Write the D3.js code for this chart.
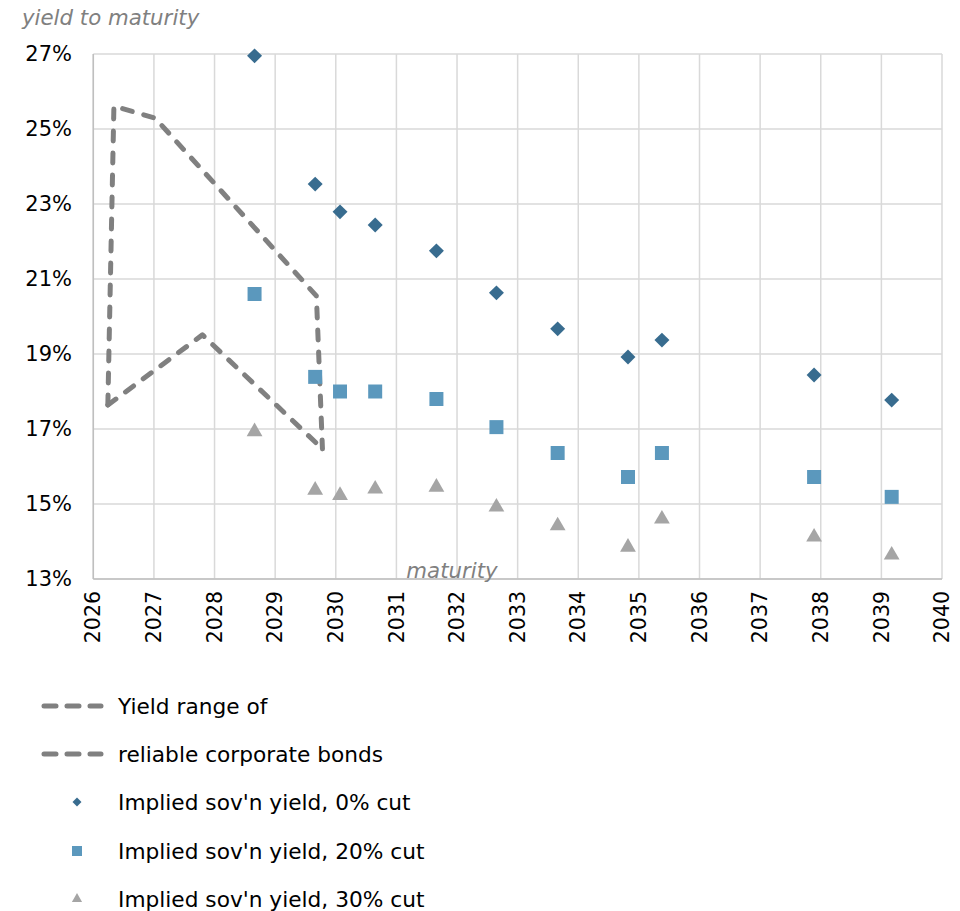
<!DOCTYPE html>
<html><head><meta charset="utf-8">
<script src="https://cdn.jsdelivr.net/npm/d3@7"></script>
<style>body{margin:0;background:#fff}</style>
</head><body>
<svg id="c" width="960" height="911"></svg>
<script>
// ---- data ----
const maturities = [2028.66, 2029.66, 2030.07, 2030.65, 2031.66, 2032.65, 2033.66, 2034.82, 2035.38, 2037.89, 2039.17];
const cut0  = [26.95, 23.53, 22.79, 22.44, 21.75, 20.63, 19.67, 18.92, 19.37, 18.44, 17.77];
const cut20 = [20.60, 18.39, 18.00, 18.00, 17.80, 17.05, 16.36, 15.72, 16.36, 15.72, 15.19];
const cut30 = [16.93, 15.37, 15.23, 15.40, 15.45, 14.92, 14.42, 13.85, 14.60, 14.12, 13.64];
const rangeUpperX = [2026.24, 2026.34, 2027.02, 2029.68, 2029.78];
const rangeUpperY = [17.64, 25.61, 25.29, 20.55, 16.47];
const rangeLowerX = [2026.24, 2027.80, 2029.78];
const rangeLowerY = [17.64, 19.51, 16.47];
const yTicks = [13, 15, 17, 19, 21, 23, 25, 27];
const xTicks = [2026,2027,2028,2029,2030,2031,2032,2033,2034,2035,2036,2037,2038,2039,2040];
const legendLabels = ["Yield range of", "reliable corporate bonds", "Implied sov'n yield, 0% cut", "Implied sov'n yield, 20% cut", "Implied sov'n yield, 30% cut"];

// ---- layout ----
const svg = d3.select("#c");
const font = "DejaVu Sans, Verdana, sans-serif";
const x = d3.scaleLinear().domain([2026, 2040]).range([93.3, 942]);
const y = d3.scaleLinear().domain([13, 27]).range([579, 54]);
const cDia = "#386c8f", cSq = "#5b98bd", cTri = "#a5a5a5", cLine = "#808080";

// grid
const g = svg.append("g");
g.selectAll("line.h").data(yTicks).join("line")
  .attr("x1", x(2026)).attr("x2", x(2040))
  .attr("y1", d => y(d)).attr("y2", d => y(d))
  .attr("stroke", "#d9d9d9").attr("stroke-width", 1.5);
g.selectAll("line.v").data(xTicks).join("line")
  .attr("x1", d => x(d)).attr("x2", d => x(d))
  .attr("y1", y(13)).attr("y2", y(27))
  .attr("stroke", "#d9d9d9").attr("stroke-width", 1.5);
g.append("line").attr("x1", x(2026)).attr("x2", x(2040)).attr("y1", y(13)).attr("y2", y(13))
  .attr("stroke", "#bfbfbf").attr("stroke-width", 1.5);
g.append("line").attr("x1", x(2026)).attr("x2", x(2026)).attr("y1", y(13)).attr("y2", y(27))
  .attr("stroke", "#bfbfbf").attr("stroke-width", 1.5);

// y tick labels
svg.selectAll("text.yt").data(yTicks).join("text")
  .attr("x", 72).attr("y", d => y(d)).attr("dy", "0.35em")
  .attr("text-anchor", "end").attr("font-family", font).attr("font-size", 21).attr("fill", "#000")
  .text(d => d + "%");
// x tick labels
svg.selectAll("text.xt").data(xTicks).join("text")
  .attr("transform", d => `translate(${x(d)},591) rotate(-90)`)
  .attr("dy", "0.35em")
  .attr("text-anchor", "end").attr("font-family", font).attr("font-size", 20.5).attr("fill", "#000")
  .text(d => d);

// axis titles
svg.append("text").attr("x", 22).attr("y", 25).attr("font-family", font).attr("font-style", "italic")
  .attr("font-size", 21.3).attr("fill", "#808080").text("yield to maturity");
svg.append("text").attr("x", 452).attr("y", 578).attr("text-anchor", "middle").attr("font-family", font)
  .attr("font-style", "italic").attr("font-size", 21.3).attr("fill", "#808080").text("maturity");

// dashed range lines
const line = d3.line().x(d => x(d[0])).y(d => y(d[1]));
const dash = "10,12";
[[rangeUpperX, rangeUpperY], [rangeLowerX, rangeLowerY]].forEach(([xs, ys]) => {
  svg.append("path").attr("d", line(xs.map((v, i) => [v, ys[i]])))
    .attr("fill", "none").attr("stroke", cLine).attr("stroke-width", 5)
    .attr("stroke-dasharray", dash).attr("stroke-linecap", "round").attr("stroke-linejoin", "round");
});

// markers
const sqSym = d3.symbol().type(d3.symbolSquare);
const triSym = d3.symbol().type(d3.symbolTriangle);
svg.selectAll("path.d0").data(maturities).join("path")
  .attr("d", sqSym.size(112)())
  .attr("transform", (d, i) => `translate(${x(d)},${y(cut0[i])}) rotate(45)`)
  .attr("fill", cDia);
svg.selectAll("path.d20").data(maturities).join("path")
  .attr("d", sqSym.size(196)())
  .attr("transform", (d, i) => `translate(${x(d)},${y(cut20[i])})`)
  .attr("fill", cSq);
svg.selectAll("path.d30").data(maturities).join("path")
  .attr("d", triSym.size(108)())
  .attr("transform", (d, i) => `translate(${x(d)},${y(cut30[i])})`)
  .attr("fill", cTri);

// legend
const ly = [706, 754, 802, 851, 899];
const lg = svg.append("g");
legendLabels.forEach((t, i) => {
  lg.append("text").attr("x", 118).attr("y", ly[i]).attr("dy", "0.35em")
    .attr("font-family", font).attr("font-size", 21.7).attr("fill", "#000").text(t);
});
[0, 1].forEach(i => {
  lg.append("line").attr("x1", 44).attr("x2", 101).attr("y1", ly[i]).attr("y2", ly[i])
    .attr("stroke", cLine).attr("stroke-width", 5).attr("stroke-linecap", "round")
    .attr("stroke-dasharray", "12,11");
});
lg.append("path").attr("d", sqSym.size(40)()).attr("transform", `translate(77,${ly[2]}) rotate(45)`).attr("fill", cDia);
lg.append("path").attr("d", sqSym.size(100)()).attr("transform", `translate(77,${ly[3]})`).attr("fill", cSq);
lg.append("path").attr("d", triSym.size(45)()).attr("transform", `translate(77,${ly[4]})`).attr("fill", cTri);
</script>
</body></html>
